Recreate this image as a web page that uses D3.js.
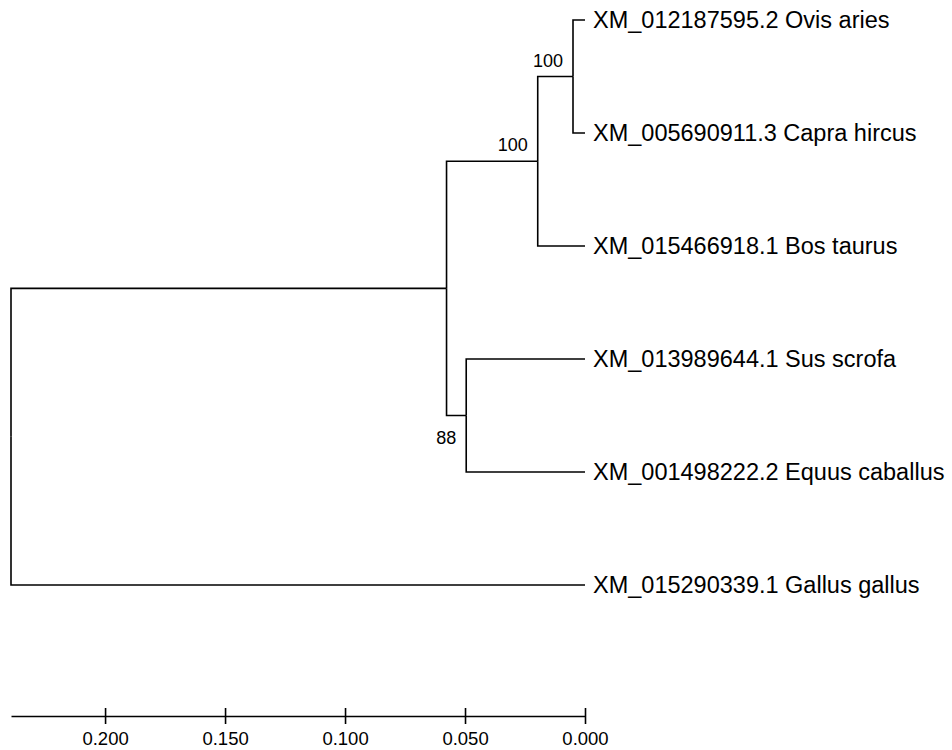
<!DOCTYPE html>
<html lang="en">
<head>
<meta charset="utf-8">
<title>Phylogenetic tree</title>
<script src="https://d3js.org/d3.v7.min.js"></script>
<style>
  body { margin: 0; background: #fff; font-family: 'Liberation Sans', Arial, sans-serif; }
  svg text { fill: #000; }
</style>
</head>
<body>
<div id="chart"></div>
<script>

/* Data */
/* ==== */

// Leaf labels, top to bottom
var taxa = [
  'XM_012187595.2 Ovis aries',
  'XM_005690911.3 Capra hircus',
  'XM_015466918.1 Bos taurus',
  'XM_013989644.1 Sus scrofa',
  'XM_001498222.2 Equus caballus',
  'XM_015290339.1 Gallus gallus'
];

// Internal nodes: name, children, height (distance to tips), bootstrap
var nodeNames    = ['root', 'A', 'B', 'C', 'D'];
var nodeChildren = [['A', 5], ['B', 'D'], ['C', 2], [0, 1], [3, 4]];
var nodeHeights  = [0.2392, 0.0577, 0.0197, 0.0050, 0.0495];
var nodeSupport  = [null, null, 100, 100, 88];

// Scale bar ticks
var tickValues = [0.200, 0.150, 0.100, 0.050, 0.000];


/* Build hierarchy */
/* =============== */

function build(key) {
  if (typeof key === 'number') return { name: taxa[key], leaf: key, height: 0 };
  var i = nodeNames.indexOf(key);
  return {
    name: key,
    height: nodeHeights[i],
    support: nodeSupport[i],
    children: nodeChildren[i].map(build)
  };
}

var root = d3.hierarchy(build('root'));


/* Layout */
/* ====== */

var width = 952, height = 750;

var svg = d3.select('#chart').append('svg')
  .attr('width', width)
  .attr('height', height);

var x = d3.scaleLinear()
  .domain([nodeHeights[0], 0])
  .range([11, 585]);

var y = d3.scalePoint()
  .domain(d3.range(taxa.length))
  .range([20, 585]);

// y positions: leaves by order, internal nodes at midpoint of children
root.eachAfter(function(d) {
  d.px = x(d.data.height);
  if (d.children) {
    d.py = (d.children[0].py + d.children[d.children.length - 1].py) / 2;
  } else {
    d.py = y(d.data.leaf);
  }
});

var g = svg.append('g');

// Branches (elbow)
g.selectAll('path.branch')
  .data(root.links())
  .join('path')
  .attr('class', 'branch')
  .attr('fill', 'none')
  .attr('stroke', '#000')
  .attr('stroke-width', 1.6)
  .attr('d', function(l) {
    return 'M' + l.source.px + ',' + l.source.py +
           'V' + l.target.py + 'H' + l.target.px;
  });

// Tip labels
g.selectAll('text.tip')
  .data(root.leaves())
  .join('text')
  .attr('class', 'tip')
  .attr('x', function(d) { return d.px + 8; })
  .attr('y', function(d) { return d.py; })
  .attr('dy', '0.36em')
  .style('font-size', '23.5px')
  .text(function(d) { return d.data.name; });

// Bootstrap values
var supported = root.descendants().filter(function(d) { return d.data.support != null; });

g.selectAll('text.support')
  .data(supported)
  .join('text')
  .attr('class', 'support')
  .attr('x', function(d) { return d.px - 10; })
  .attr('y', function(d) { return d.data.name === 'D' ? d.py + 28 : d.py - 10; })
  .attr('text-anchor', 'end')
  .style('font-size', '18px')
  .text(function(d) { return d.data.support; });


/* Scale bar */
/* ========= */

var axis = d3.axisBottom(x)
  .tickValues(tickValues)
  .tickFormat(d3.format('.3f'))
  .tickSizeInner(8)
  .tickSizeOuter(0)
  .tickPadding(8);

var axisG = svg.append('g')
  .attr('transform', 'translate(0,716)')
  .call(axis);

axisG.select('.domain').attr('stroke-width', 1.6);
axisG.selectAll('.tick line').attr('y1', -8).attr('stroke-width', 1.6);
axisG.selectAll('.tick text')
  .style('font-size', '18.5px')
  .style('font-family', "'Liberation Sans', Arial, sans-serif");

</script>
</body>
</html>
